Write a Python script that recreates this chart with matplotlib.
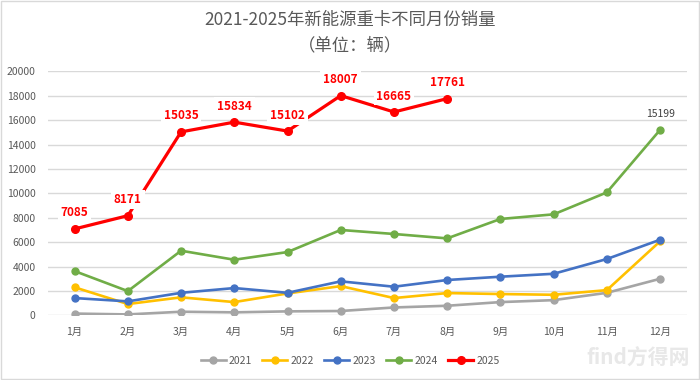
import matplotlib.pyplot as plt
import numpy as np

plt.rcParams['font.family'] = ['Noto Sans CJK SC', 'DejaVu Sans']

# 数据（单位：辆）
months = ['1月', '2月', '3月', '4月', '5月', '6月', '7月', '8月', '9月', '10月', '11月', '12月']
s2021 = [150, 80, 300, 250, 330, 360, 650, 790, 1090, 1250, 1850, 3000]
s2022 = [2300, 930, 1480, 1090, 1800, 2400, 1420, 1830, 1750, 1690, 2070, 6070]
s2023 = [1420, 1150, 1850, 2240, 1850, 2790, 2350, 2900, 3170, 3410, 4620, 6200]
s2024 = [3630, 1990, 5300, 4560, 5190, 7000, 6670, 6310, 7900, 8280, 10080, 15199]
s2025 = [7085, 8171, 15035, 15834, 15102, 18007, 16665, 17761]

fig = plt.figure(figsize=(7, 3.8), dpi=100)
ax = fig.add_axes([0.0686, 0.170, 0.9124, 0.6424])

x = np.arange(len(months))
ax.plot(x, s2021, color='#A5A5A5', lw=1.9, marker='o', ms=5, label='2021', zorder=3)
ax.plot(x, s2022, color='#FFC000', lw=1.9, marker='o', ms=5, label='2022', zorder=3)
ax.plot(x, s2023, color='#4472C4', lw=1.9, marker='o', ms=5, label='2023', zorder=3)
ax.plot(x, s2024, color='#70AD47', lw=1.9, marker='o', ms=5, label='2024', zorder=3)
ax.plot(x[:len(s2025)], s2025, color='#FF0000', lw=2.3, marker='o', ms=5.5, label='2025', zorder=4)

# 2025 数据标签
for i, v in enumerate(s2025):
    ax.annotate(str(v), (i, v), xytext=(0, 11.5), textcoords='offset points',
                ha='center', va='center', color='#FF0000', fontsize=8.5, fontweight='bold',
                bbox=dict(boxstyle='square,pad=0.25', fc='white', ec='none'), zorder=6)
ax.annotate(str(s2024[-1]), (11, s2024[-1]), xytext=(0, 11.5), textcoords='offset points',
            ha='center', va='center', color='#404040', fontsize=7.5, zorder=6)

ax.set_xlim(-0.5, 11.5)
ax.set_ylim(0, 20000)
ax.set_yticks(np.arange(0, 20001, 2000))
ax.set_xticks(x)
ax.set_xticklabels(months)
ax.tick_params(axis='both', length=0, labelsize=7.5, labelcolor='#595959')
ax.tick_params(axis='y', pad=9)
ax.tick_params(axis='x', pad=8)
ax.grid(axis='y', color='#D9D9D9', lw=1)
ax.set_axisbelow(True)
for sp in ax.spines.values():
    sp.set_visible(False)

fig.text(0.5, 0.947, '2021-2025年新能源重卡不同月份销量', ha='center', va='center',
         fontsize=12.5, color='#595959')
fig.text(0.5, 0.882, '（单位：辆）', ha='center', va='center', fontsize=12.5, color='#595959')

fig.legend(loc='center', bbox_to_anchor=(0.5, 0.05), ncol=5, frameon=False,
           fontsize=7.5, labelcolor='#595959', handlelength=2.4, columnspacing=1.0,
           handletextpad=0.3)

# 水印
fig.text(0.985, 0.03, 'find方得网', ha='right', va='bottom', fontsize=15,
         color='#E8E8E8', fontweight='bold')

# 外框
fig.patches.append(plt.Rectangle((0.002, 0.003), 0.996, 0.994, transform=fig.transFigure,
                                 fill=False, ec='#D9D9D9', lw=1))

fig.savefig('out.png', dpi=100)
